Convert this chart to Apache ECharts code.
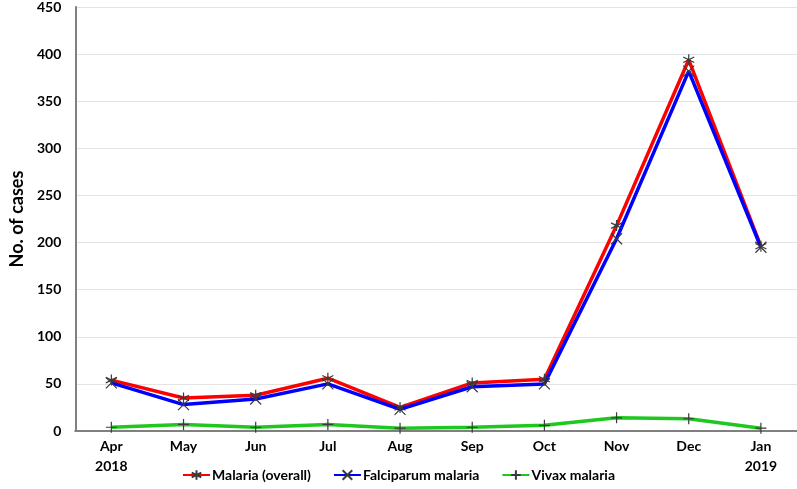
<!DOCTYPE html>
<html>
<head>
<meta charset="utf-8">
<script src="https://cdn.jsdelivr.net/npm/echarts@6/dist/echarts.min.js"></script>
<style>
  html, body { margin: 0; padding: 0; background: #fff; }
  #main { width: 797px; height: 489px; }
</style>
</head>
<body>
<div id="main"></div>
<script>
var months = ['Apr\n2018', 'May', 'Jun', 'Jul', 'Aug', 'Sep', 'Oct', 'Nov', 'Dec', 'Jan\n2019'];
var malariaOverall = [54, 35, 38, 56, 25, 51, 55, 218, 394, 196];
var falciparum = [51, 28, 34, 50, 23, 47, 50, 204, 382, 195];
var vivax = [4, 7, 4, 7, 3, 4, 6, 14, 13, 3];
var yTicks = { min: 0, max: 450, interval: 50 };

var font = 'Lato, "Open Sans", sans-serif';
var markColor = '#3a3a3a';

// thin stroke-only markers (asterisk, cross, plus)
var starPath = 'path://M5,0L5,10M0.7,2.5L9.3,7.5M9.3,2.5L0.7,7.5';
var crossPath = 'path://M0,0L10,10M10,0L0,10';
var plusPath = 'path://M5,0L5,10M0,5L10,5';

function lineSeries(name, data, color, symbol) {
  return {
    name: name,
    type: 'line',
    data: data,
    symbol: symbol,
    symbolSize: 11,
    showAllSymbol: true,
    lineStyle: { color: color, width: 3.5 },
    itemStyle: { color: markColor, borderColor: markColor, borderWidth: 1.2 },
    emphasis: { disabled: true }
  };
}

var chart = echarts.init(document.getElementById('main'), null, { renderer: 'canvas' });
var option = {
  backgroundColor: '#ffffff',
  animation: false,
  grid: { left: 69, right: 0, top: 6, bottom: 58 },
  legend: {
    top: 466,
    left: 'center',
    padding: 2,
    itemWidth: 27,
    itemHeight: 12,
    itemGap: 22,
    textStyle: { fontFamily: font, fontWeight: 'bold', fontSize: 14, color: '#000', padding: [0, 0, 0, -3] },
    data: ['Malaria (overall)', 'Falciparum malaria', 'Vivax malaria']
  },
  xAxis: {
    type: 'category',
    boundaryGap: true,
    data: months,
    axisLine: { lineStyle: { color: '#808080', width: 2 } },
    axisTick: { show: false },
    axisLabel: {
      fontFamily: font, fontWeight: 'bold', fontSize: 14, color: '#000',
      lineHeight: 20, margin: 5
    }
  },
  yAxis: {
    type: 'value',
    min: yTicks.min,
    max: yTicks.max,
    interval: yTicks.interval,
    name: 'No. of cases',
    nameLocation: 'middle',
    nameGap: 47,
    nameTextStyle: { fontFamily: font, fontWeight: 'bold', fontSize: 18, color: '#000' },
    axisLine: { show: true, lineStyle: { color: '#808080', width: 2 } },
    axisTick: { show: false },
    splitLine: { lineStyle: { color: '#e3e3e3', width: 1 } },
    axisLabel: { fontFamily: font, fontWeight: 'bold', fontSize: 14, color: '#000', margin: 14 }
  },
  series: [
    lineSeries('Malaria (overall)', malariaOverall, '#ff0000', starPath),
    lineSeries('Falciparum malaria', falciparum, '#0000ff', crossPath),
    lineSeries('Vivax malaria', vivax, '#1ec81e', plusPath)
  ]
};
chart.setOption(option);
</script>
</body>
</html>
